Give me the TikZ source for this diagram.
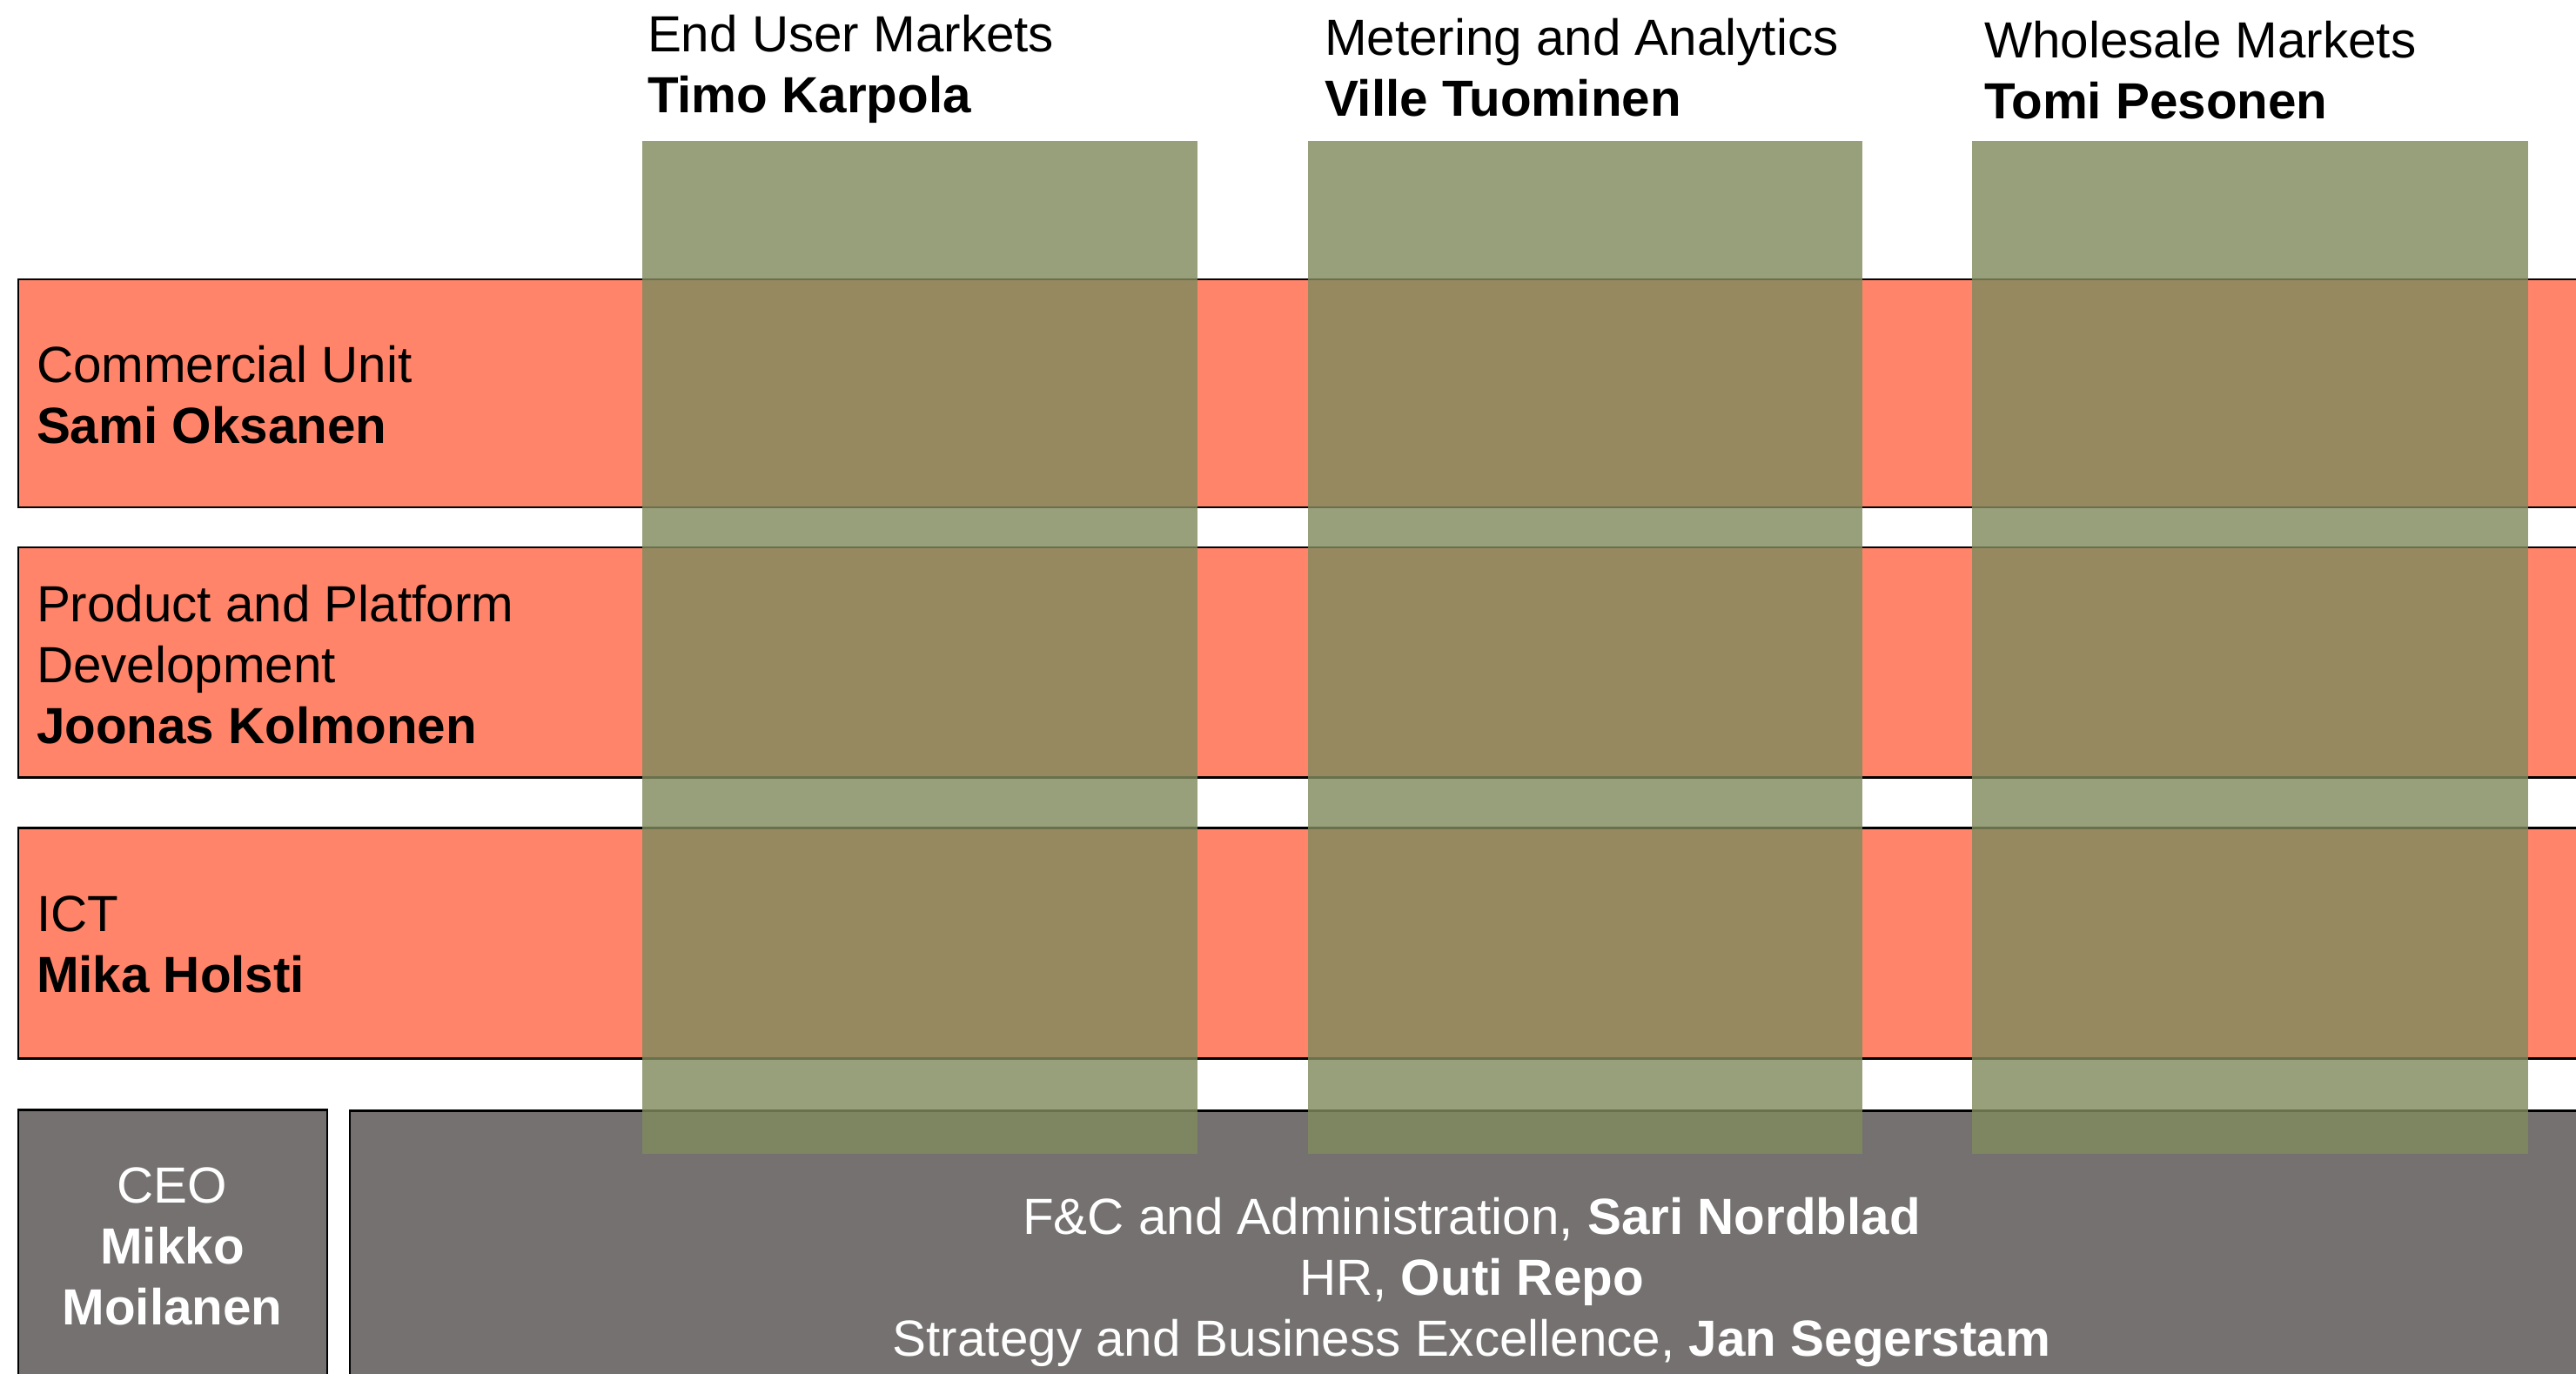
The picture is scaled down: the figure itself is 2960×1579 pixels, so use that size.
\documentclass[tikz,border=0pt]{standalone}
\usepackage{fontspec}
\setmainfont{Liberation Sans}
\definecolor{bandred}{RGB}{255,132,105}
\definecolor{boxgray}{RGB}{116,113,112}
\definecolor{colgreen}{RGB}{128,139,93}
\tikzset{
  band/.style={fill=bandred, draw=black, line width=0.85pt},
  graybox/.style={fill=boxgray, draw=black, line width=0.85pt},
  column/.style={fill=colgreen, fill opacity=0.82, draw=none},
  txt/.style={inner sep=0pt, outer sep=0pt, font=\fontsize{16.6}{19.9}\selectfont},
  lt/.style={txt, anchor=base west, text=black},
  wt/.style={txt, anchor=base, text=white},
}
\begin{document}
\begin{tikzpicture}[x=0.01cm, y=-0.01cm]
\useasboundingbox (0,0) rectangle (2960,1579);
% bands
\path[band] (21,321) rectangle (3000,583);
\path[band] (21,629) rectangle (3000,893);
\path[band] (21,951) rectangle (3000,1216);
% bottom boxes
\path[graybox] (21,1275) rectangle (376,1620);
\path[graybox] (402,1276) rectangle (3000,1620);
% columns
\path[column] (738,162) rectangle (1376,1326);
\path[column] (1503,162) rectangle (2140,1326);
\path[column] (2266,162) rectangle (2905,1326);
% column headers
\node[lt] (c1a) at (744,60) {End User Markets};
\node[lt] (c1b) at (744,130) {\bfseries Timo Karpola};
\node[lt] (c2a) at (1522,64) {Metering and Analytics};
\node[lt] (c2b) at (1522,134) {\bfseries Ville Tuominen};
\node[lt] (c3a) at (2280,67) {Wholesale Markets};
\node[lt] (c3b) at (2280,137) {\bfseries Tomi Pesonen};
% band texts
\node[lt] (b1a) at (42,439) {Commercial Unit};
\node[lt] (b1b) at (42,509) {\bfseries Sami Oksanen};
\node[lt] (b2a) at (42,714) {Product and Platform};
\node[lt] (b2b) at (42,784) {Development};
\node[lt] (b2c) at (42,854) {\bfseries Joonas Kolmonen};
\node[lt] (b3a) at (42,1070) {ICT};
\node[lt] (b3b) at (42,1140) {\bfseries Mika Holsti};
% CEO
\node[wt] (ceoa) at (198,1382) {CEO};
\node[wt] (ceob) at (198,1452) {\bfseries Mikko};
\node[wt] (ceoc) at (198,1522) {\bfseries Moilanen};
% F&C
\node[wt] (fca) at (1691,1418) {F\&C and Administration, \textbf{Sari Nordblad}};
\node[wt] (fcb) at (1691,1488) {HR, \textbf{Outi Repo}};
\node[wt] (fcc) at (1691,1558) {Strategy and Business Excellence, \textbf{Jan Segerstam}};
\end{tikzpicture}
\end{document}
